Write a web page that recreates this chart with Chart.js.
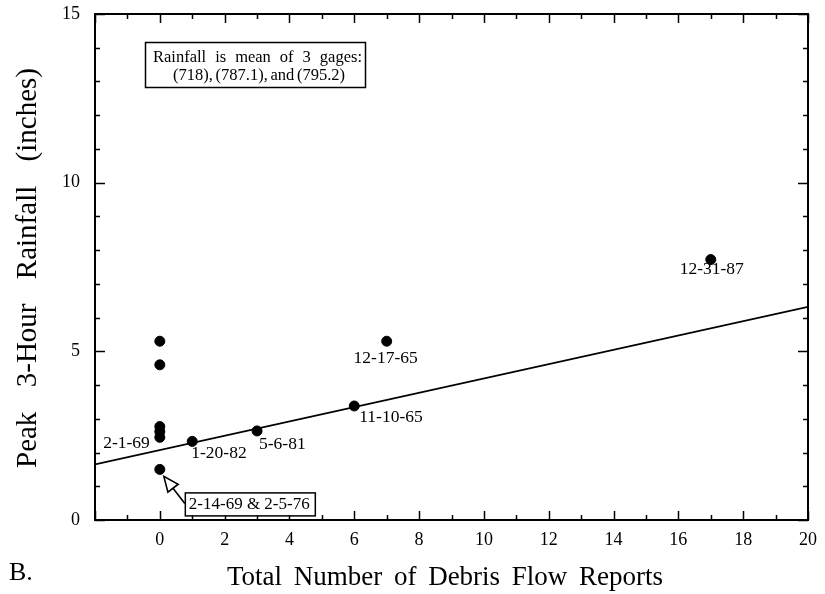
<!DOCTYPE html>
<html>
<head>
<meta charset="utf-8">
<script src="https://cdn.jsdelivr.net/npm/chart.js@4.4.1/dist/chart.umd.min.js"></script>
<style>
  html, body { margin: 0; padding: 0; background: #fff; }
  #wrap { width: 825px; height: 594px; }
</style>
</head>
<body>
<div id="wrap"><canvas id="c" width="825" height="594"></canvas></div>
<script>
// Storm events: number of debris-flow reports vs. peak 3-hour rainfall
const reportCounts = [0, 0, 0, 0, 0, 0, 1, 3, 6, 7, 17];
const rainfall     = [5.3, 4.6, 2.77, 2.62, 2.45, 1.5, 2.33, 2.64, 3.38, 5.3, 7.72];
const eventLabels  = ['', '', '', '', '2-1-69', '', '1-20-82', '5-6-81', '11-10-65', '12-17-65', '12-31-87'];

// Fitted trend line, evaluated at the axis ends
const fitX = [-2, 20];
const fitY = [1.65, 6.32];

const xTickLabels = [0, 2, 4, 6, 8, 10, 12, 14, 16, 18, 20];
const yTickLabels = [0, 5, 10, 15];

const noteLines   = ['Rainfall is mean of 3 gages:', '(718), (787.1), and (795.2)'];
const calloutText = '2-14-69 & 2-5-76';
const calloutIndex = 5;
const xTitle   = 'Total Number of Debris Flow Reports';
const yTitle   = 'Peak 3-Hour Rainfall (inches)';
const panelTag = 'B.';

// Where each event label sits relative to its dot
const labelPlacement = {
  '2-1-69':   { dx: -10, dy: 6,  align: 'right' },
  '1-20-82':  { dx: -1,  dy: 12, align: 'left' },
  '5-6-81':   { dx: 2,   dy: 13, align: 'left' },
  '11-10-65': { dx: 5,   dy: 11, align: 'left' },
  '12-17-65': { dx: -1,  dy: 17, align: 'center' },
  '12-31-87': { dx: 1,   dy: 10, align: 'center' }
};

const SERIF = '"Liberation Serif", "DejaVu Serif", serif';

// Draw words spread evenly between x0 and x1 (wide typewriter-style spacing)
function drawSpread(ctx, text, x0, x1, y) {
  const words = text.split(' ');
  const widths = words.map(w => ctx.measureText(w).width);
  const total = widths.reduce((a, b) => a + b, 0);
  const gap = words.length > 1 ? (x1 - x0 - total) / (words.length - 1) : 0;
  let x = x0;
  ctx.textAlign = 'left';
  words.forEach((w, i) => { ctx.fillText(w, x, y); x += widths[i] + gap; });
}

const framePlugin = {
  id: 'frameTicks',
  afterDatasetsDraw(chart) {
    const ctx = chart.ctx;
    const { left, right, top, bottom } = chart.chartArea;
    const xs = chart.scales.x, ys = chart.scales.y;
    ctx.save();
    ctx.strokeStyle = '#000';
    ctx.lineWidth = 2;
    ctx.strokeRect(left, top, right - left, bottom - top);
    ctx.lineWidth = 1.5;
    ctx.beginPath();
    for (let v = xs.min; v <= xs.max; v++) {
      const px = Math.round(xs.getPixelForValue(v)) + 0.5;
      const len = v % 2 === 0 ? 9 : 5;
      ctx.moveTo(px, bottom); ctx.lineTo(px, bottom - len);
      ctx.moveTo(px, top);    ctx.lineTo(px, top + len);
    }
    for (let v = ys.min; v <= ys.max; v++) {
      const py = Math.round(ys.getPixelForValue(v)) + 0.5;
      const len = v % 5 === 0 ? 10 : 5;
      ctx.moveTo(left, py);  ctx.lineTo(left + len, py);
      ctx.moveTo(right, py); ctx.lineTo(right - len, py);
    }
    ctx.stroke();
    ctx.restore();
  }
};

const annotationPlugin = {
  id: 'annotations',
  afterDraw(chart) {
    const ctx = chart.ctx;
    const { left, top } = chart.chartArea;
    const xs = chart.scales.x, ys = chart.scales.y;
    ctx.save();
    ctx.fillStyle = '#000';
    ctx.strokeStyle = '#000';

    // Event date labels
    ctx.font = '17.5px ' + SERIF;
    ctx.textBaseline = 'middle';
    eventLabels.forEach((lab, i) => {
      if (!lab) return;
      const p = labelPlacement[lab];
      const px = xs.getPixelForValue(reportCounts[i]);
      const py = ys.getPixelForValue(rainfall[i]);
      ctx.textAlign = p.align;
      ctx.fillText(lab, px + p.dx, py + p.dy);
    });

    // Note box about the rain gages
    const bx = left + 50, by = top + 28, bw = 220, bh = 45;
    ctx.fillStyle = '#fff';
    ctx.fillRect(bx, by, bw, bh);
    ctx.lineWidth = 1.5;
    ctx.strokeRect(bx + 0.5, by + 0.5, bw, bh);
    ctx.fillStyle = '#000';
    ctx.font = '16.5px ' + SERIF;
    ctx.textBaseline = 'alphabetic';
    drawSpread(ctx, noteLines[0], bx + 8, bx + 217, by + 20);
    drawSpread(ctx, noteLines[1], bx + 28, bx + 200, by + 38);

    // Callout box with arrow to the lowest zero-report event
    const cx = xs.getPixelForValue(reportCounts[calloutIndex]);
    const cy = ys.getPixelForValue(rainfall[calloutIndex]);
    const rx = cx + 25, ry = cy + 23, rw = 130, rh = 23;
    ctx.fillStyle = '#fff';
    ctx.fillRect(rx, ry, rw, rh);
    ctx.lineWidth = 1.5;
    ctx.strokeRect(rx + 0.5, ry + 0.5, rw, rh);
    ctx.fillStyle = '#000';
    ctx.font = '17px ' + SERIF;
    ctx.textAlign = 'left';
    ctx.fillText(calloutText, rx + 4, ry + 17);

    const tx = cx + 4, ty = cy + 7;
    const sx = rx, sy = cy + 34;
    const ang = Math.atan2(sy - ty, sx - tx);
    const hl = 15, hw = 6.5;
    const bxm = tx + Math.cos(ang) * hl, bym = ty + Math.sin(ang) * hl;
    const nx = -Math.sin(ang), ny = Math.cos(ang);
    ctx.lineWidth = 1.6;
    ctx.beginPath();
    ctx.moveTo(sx, sy); ctx.lineTo(bxm, bym);
    ctx.stroke();
    ctx.beginPath();
    ctx.moveTo(tx, ty);
    ctx.lineTo(bxm + nx * hw, bym + ny * hw);
    ctx.lineTo(bxm - nx * hw, bym - ny * hw);
    ctx.closePath();
    ctx.fillStyle = '#fff';
    ctx.fill();
    ctx.stroke();

    // Axis titles and panel tag
    ctx.fillStyle = '#000';
    ctx.font = '27px ' + SERIF;
    ctx.textBaseline = 'alphabetic';
    drawSpread(ctx, xTitle, 227, 663, 585);
    ctx.font = '26px ' + SERIF;
    ctx.textAlign = 'left';
    ctx.fillText(panelTag, 9, 580);

    ctx.font = '29px ' + SERIF;
    ctx.translate(36, 0);
    ctx.rotate(-Math.PI / 2);
    drawSpread(ctx, yTitle, -468, -68, 0);
    ctx.restore();
  }
};

const tickFont = { family: SERIF, size: 18 };

new Chart(document.getElementById('c').getContext('2d'), {
  type: 'scatter',
  data: {
    datasets: [
      {
        type: 'line',
        data: fitX.map((x, i) => ({ x, y: fitY[i] })),
        borderColor: '#000',
        borderWidth: 1.8,
        pointRadius: 0,
        fill: false,
        tension: 0,
        order: 2
      },
      {
        data: reportCounts.map((x, i) => ({ x, y: rainfall[i] })),
        backgroundColor: '#000',
        borderColor: '#000',
        pointRadius: 5,
        pointHoverRadius: 5,
        order: 1
      }
    ]
  },
  options: {
    responsive: false,
    animation: false,
    devicePixelRatio: 1,
    layout: { padding: { left: 0, right: 17, top: 14, bottom: 0 } },
    plugins: { legend: { display: false }, tooltip: { enabled: false } },
    scales: {
      x: {
        type: 'linear', min: -2, max: 20,
        afterFit(s) { s.height = 74; s.paddingLeft = 0; s.paddingRight = 0; },
        grid: { display: false, drawTicks: false },
        border: { display: false },
        ticks: {
          stepSize: 1, autoSkip: false, maxRotation: 0, padding: 9,
          color: '#000', font: tickFont,
          callback: v => xTickLabels.includes(v) ? String(v) : ''
        }
      },
      y: {
        type: 'linear', min: 0, max: 15,
        afterFit(s) { s.width = 95; s.paddingTop = 0; s.paddingBottom = 0; },
        grid: { display: false, drawTicks: false },
        border: { display: false },
        ticks: {
          stepSize: 1, autoSkip: false, padding: 15,
          color: '#000', font: tickFont,
          callback: v => yTickLabels.includes(v) ? String(v) : ''
        }
      }
    }
  },
  plugins: [framePlugin, annotationPlugin]
});
</script>
</body>
</html>
